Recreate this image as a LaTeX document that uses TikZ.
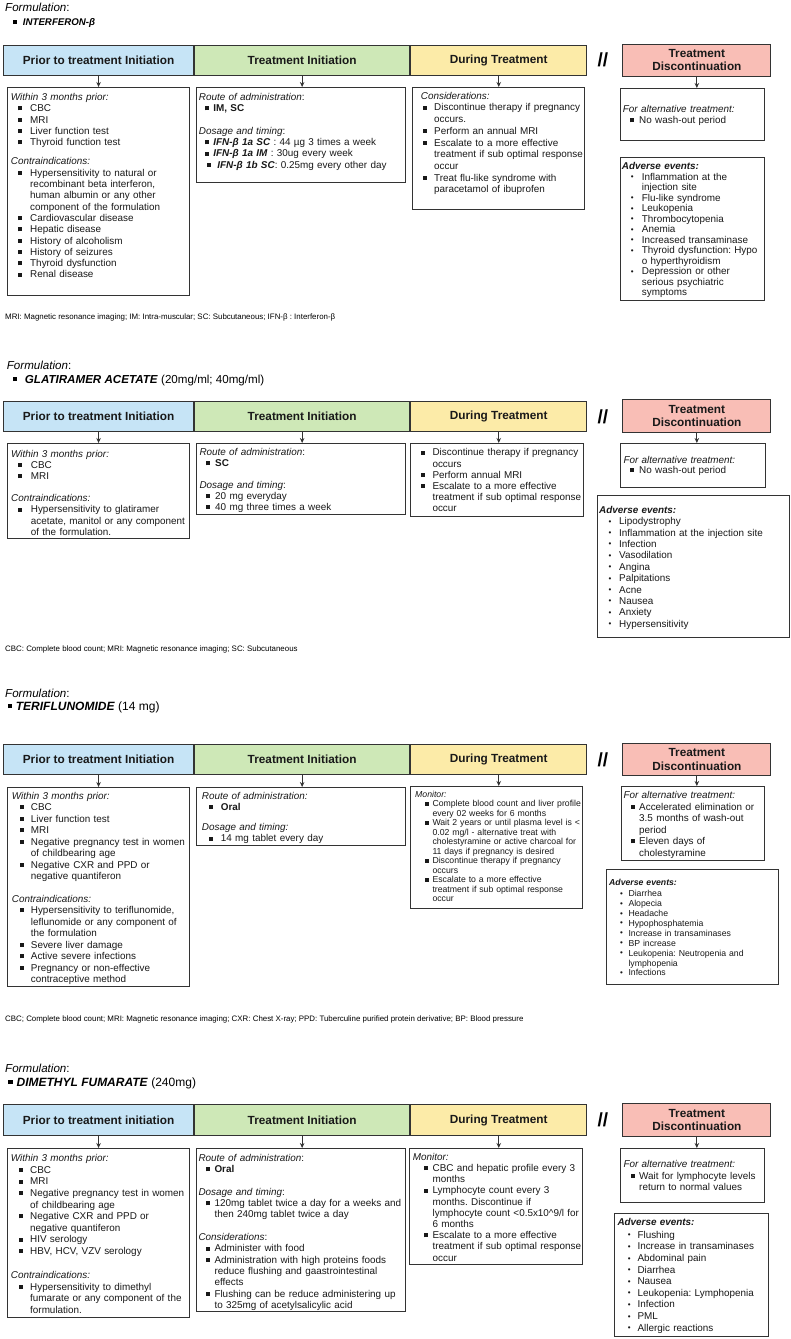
\documentclass[tikz,border=0pt]{standalone}
\usepackage{fontspec}
\setmainfont{Liberation Sans}
\usetikzlibrary{positioning,arrows.meta}
\frenchspacing

\definecolor{cprior}{HTML}{C6E4F6}
\definecolor{cinit}{HTML}{CEE8B7}
\definecolor{cduring}{HTML}{FCEBA8}
\definecolor{cstop}{HTML}{F9BEB6}
\definecolor{cline}{HTML}{333333}

\newlength{\itemind}
\newlength{\itemoff}
\setlength{\itemind}{19pt}
\setlength{\itemoff}{7pt}
\newcommand{\bodyfont}[1]{\fontsize{9.9pt}{#1pt}\selectfont}
\newcommand{\smallbody}[1]{\fontsize{8.7pt}{#1pt}\selectfont}
\newcommand{\hdline}[1]{\par\noindent\textit{#1}}
\newcommand{\blkgap}[1]{\par\vspace{#1pt}}
\newcommand{\sqitem}[1]{\par\noindent\hangindent=\itemind\hangafter=1%
  \makebox[\itemind][l]{\hspace*{\itemoff}\rule[1.3pt]{4pt}{4pt}}{\let\\\newline #1}}
\newcommand{\dtitem}[1]{\par\noindent\hangindent=\itemind\hangafter=1%
  \makebox[\itemind][l]{\hspace*{\itemoff}\raisebox{0.5pt}{\fontsize{8pt}{8pt}\selectfont\textbullet}}{\let\\\newline #1}}

\tikzset{
  hdr/.style={draw=cline, line width=1.1pt, inner sep=0pt, minimum height=30pt,
    font=\fontsize{11.8pt}{13.3pt}\selectfont\bfseries, text=black!90},
  box/.style={draw=cline, line width=1.1pt, inner sep=0pt, anchor=north west},
  txt/.style={inner sep=0pt, align=left, text width=#1, text=black!90},
  items/.style 2 args={execute at begin node={\setlength{\itemind}{#1pt}\setlength{\itemoff}{#2pt}}},
  arr/.style={-{Stealth[length=5pt,width=4.5pt]}, line width=1pt, draw=cline},
  dslash/.style={inner sep=0pt, font=\fontsize{19pt}{19pt}\selectfont\bfseries},
  form/.style={anchor=base west, inner sep=0pt, font=\fontsize{11.6pt}{14pt}\selectfont},
  drug/.style={anchor=base west, inner sep=0pt, font=\fontsize{#1pt}{14pt}\selectfont},
  note/.style={anchor=base west, inner sep=0pt, font=\fontsize{7.9pt}{9pt}\selectfont},
}

\begin{document}
\begin{tikzpicture}[x=1pt, y=-1pt]
        \fill[white] (0,0) rectangle (791,1339);
        \useasboundingbox (0,0) rectangle (791,1339);
        %
        % interferon beta
        \node[form] (form1) at (5,11.1) {\textit{Formulation}:}; %
        \node[drug=9.7] (drug1) at (12.7,25.5) {\rule[1.5pt]{4pt}{4pt}\hspace{6pt}\textbf{\textit{INTERFERON-β}}}; %
        \node[hdr, fill=cprior, minimum width=190pt, minimum height=29.5pt, anchor=north west] (hprior1) at (3,45) {Prior to treatment Initiation}; %
        \node[hdr, fill=cinit, minimum width=215pt, minimum height=29.5pt, right=0pt of hprior1] (hinit1) {Treatment Initiation}; %
        \node[hdr, fill=cduring, minimum width=176pt, minimum height=29.5pt, right=0pt of hinit1] (hduring1) {During Treatment}; %
        \node[dslash, right=10pt of hduring1] (slash1) {//}; %
        \node[hdr, fill=cstop, minimum width=148pt, minimum height=32.5pt, align=center, right=35pt of hduring1] (hstop1) {Treatment\\Discontinuation}; %
        \node[box, minimum width=182pt, minimum height=208pt] (bprior1) at (7,87) {}; %
        \node[box, minimum width=209pt, minimum height=95pt] (binit1) at (196,87) {}; %
        \node[box, minimum width=172pt, minimum height=122pt] (bduring1) at (412,87) {}; %
        \node[box, minimum width=144pt, minimum height=52pt] (bstop1) at (620,88) {}; %
        \node[box, minimum width=144pt, minimum height=143pt] (badv1) at (620,157) {}; %
        \node[txt=190pt, items={19.3}{7.3}, font=\bodyfont{11.3}, below right=1.9pt and 3.7pt of bprior1.north west] (tprior1) {%
          \hdline{Within 3 months prior:}%
          \sqitem{CBC}\sqitem{MRI}\sqitem{Liver function test}\sqitem{Thyroid function test}%
          \blkgap{8}\hdline{Contraindications:}%
          \sqitem{Hypersensitivity to natural or\\recombinant beta interferon,\\human albumin or any other\\component of the formulation}%
          \sqitem{Cardiovascular disease}\sqitem{Hepatic disease}\sqitem{History of alcoholism}%
          \sqitem{History of seizures}\sqitem{Thyroid dysfunction}\sqitem{Renal disease}\par}; %
        \node[txt=215pt, items={14.5}{6.3}, font=\bodyfont{11.3}, below right=1.9pt and 2.7pt of binit1.north west] (tinit1) {%
          \hdline{Route of administration}:%
          \sqitem{\textbf{IM, SC}}%
          \blkgap{11.3}\hdline{Dosage and timing}:%
          \sqitem{\textbf{\textit{IFN-β 1a SC}} : 44 µg 3 times a week}%
          \sqitem{\textbf{\textit{IFN-β 1a IM}} : 30ug every week}%
          {\addtolength{\itemoff}{2pt}\addtolength{\itemind}{4pt}\sqitem{\textbf{\textit{IFN-β 1b SC}}: 0.25mg every other day}\par}}; %
        \node[txt=185pt, items={18.3}{7}, font=\bodyfont{11.7}, below right=0.3pt and 3.7pt of bduring1.north west] (tduring1) {%
          \hdline{\hspace*{5pt}Considerations:}%
          \sqitem{Discontinue therapy if pregnancy\\occurs.}%
          \sqitem{Perform an annual MRI}%
          \sqitem{Escalate to a more effective\\treatment if sub optimal response\\occur}%
          \sqitem{Treat flu-like syndrome with\\paracetamol of ibuprofen}\par}; %
        \node[txt=150pt, items={16.3}{7.3}, font=\bodyfont{11}, below right=13.5pt and 2.7pt of bstop1.north west] (tstop1) {%
          \hdline{For alternative treatment:}%
          \sqitem{No wash-out period}\par}; %
        \node[txt=150pt, items={20}{9}, font=\bodyfont{10.5}, below right=1.9pt and 1.7pt of badv1.north west] (tadv1) {%
          \hdline{\textbf{Adverse events:}}%
          \dtitem{Inflammation at the\\injection site}\dtitem{Flu-like syndrome}\dtitem{Leukopenia}%
          \dtitem{Thrombocytopenia}\dtitem{Anemia}\dtitem{Increased transaminase}%
          \dtitem{Thyroid dysfunction: Hypo\\o hyperthyroidism}\dtitem{Depression or other\\serious psychiatric\\symptoms}\par}; %
        \node[note] (note1) at (5,319.7) {MRI: Magnetic resonance imaging; IM: Intra-muscular; SC: Subcutaneous; IFN-β : Interferon-β}; %
        %
        \draw[arr] (hprior1.south) -- (hprior1.south |- bprior1.north); %
        \draw[arr] (hinit1.south) -- (hinit1.south |- binit1.north); %
        \draw[arr] (hduring1.south) -- (hduring1.south |- bduring1.north); %
        \draw[arr] (hstop1.south) -- (hstop1.south |- bstop1.north); %
        %
        % glatiramer acetate
        \node[form] (form2) at (6.7,369.9) {\textit{Formulation}:}; %
        \node[drug=11.6] (drug2) at (12.7,383.2) {\rule[2.2pt]{4pt}{4pt}\hspace{8pt}\textbf{\textit{GLATIRAMER ACETATE}} (20mg/ml; 40mg/ml)}; %
        \node[hdr, fill=cprior, minimum width=190pt, minimum height=29.5pt, anchor=north west] (hprior2) at (3,401) {Prior to treatment Initiation}; %
        \node[hdr, fill=cinit, minimum width=215pt, minimum height=29.5pt, right=0pt of hprior2] (hinit2) {Treatment Initiation}; %
        \node[hdr, fill=cduring, minimum width=176pt, minimum height=29.5pt, right=0pt of hinit2] (hduring2) {During Treatment}; %
        \node[dslash, right=10pt of hduring2] (slash2) {//}; %
        \node[hdr, fill=cstop, minimum width=148pt, minimum height=33pt, align=center, right=35pt of hduring2] (hstop2) {Treatment\\Discontinuation}; %
        \node[box, minimum width=182pt, minimum height=95pt] (bprior2) at (7,443) {}; %
        \node[box, minimum width=209pt, minimum height=71pt] (binit2) at (196,443) {}; %
        \node[box, minimum width=173pt, minimum height=73pt] (bduring2) at (410,443) {}; %
        \node[box, minimum width=145pt, minimum height=44pt] (bstop2) at (620,443) {}; %
        \node[box, minimum width=192pt, minimum height=142pt] (badv2) at (597,495) {}; %
        \node[txt=190pt, items={19.7}{7.3}, font=\bodyfont{11.2}, below right=2.6pt and 4pt of bprior2.north west] (tprior2) {%
          \hdline{Within 3 months prior:}%
          \sqitem{CBC}\sqitem{MRI}%
          \blkgap{11}\hdline{Contraindications:}%
          \sqitem{Hypersensitivity to glatiramer\\acetate, manitol or any component\\of the formulation.}\par}; %
        \node[txt=215pt, items={15.7}{6.3}, font=\bodyfont{10.9}, below right=1.6pt and 3.3pt of binit2.north west] (tinit2) {%
          \hdline{Route of administration}:%
          \sqitem{\textbf{SC}}%
          \blkgap{10.9}\hdline{Dosage and timing}:%
          \sqitem{20 mg everyday}\sqitem{40 mg three times a week}\par}; %
        \node[txt=185pt, items={19.3}{7.7}, font=\bodyfont{11.1}, below right=1.6pt and 3pt of bduring2.north west] (tduring2) {%
          \sqitem{Discontinue therapy if pregnancy\\occurs}%
          \sqitem{Perform annual MRI}%
          \sqitem{Escalate to a more effective\\treatment if sub optimal response\\occur}\par}; %
        \node[txt=150pt, items={15.7}{6.7}, font=\bodyfont{10}, below right=10.2pt and 3.3pt of bstop2.north west] (tstop2) {%
          \hdline{For alternative treatment:}%
          \sqitem{No wash-out period}\par}; %
        \node[txt=190pt, items={20}{9.3}, font=\bodyfont{11.4}, below right=6.6pt and 2pt of badv2.north west] (tadv2) {%
          \hdline{\textbf{Adverse events:}}%
          \dtitem{Lipodystrophy}\dtitem{Inflammation at the injection site}\dtitem{Infection}%
          \dtitem{Vasodilation}\dtitem{Angina}\dtitem{Palpitations}\dtitem{Acne}%
          \dtitem{Nausea}\dtitem{Anxiety}\dtitem{Hypersensitivity}\par}; %
        \node[note] (note2) at (5,651.7) {CBC: Complete blood count; MRI: Magnetic resonance imaging; SC: Subcutaneous}; %
        %
        \draw[arr] (hprior2.south) -- (hprior2.south |- bprior2.north); %
        \draw[arr] (hinit2.south) -- (hinit2.south |- binit2.north); %
        \draw[arr] (hduring2.south) -- (hduring2.south |- bduring2.north); %
        \draw[arr] (hstop2.south) -- (hstop2.south |- bstop2.north); %
        %
        % teriflunomide
        \node[form] (form3) at (5,697.6) {\textit{Formulation}:}; %
        \node[drug=12] (drug3) at (7.3,710.3) {\rule[2.3pt]{4.4pt}{4.4pt}\hspace{4pt}\textbf{\textit{TERIFLUNOMIDE}} (14 mg)}; %
        \node[hdr, fill=cprior, minimum width=190pt, minimum height=30pt, anchor=north west] (hprior3) at (3,744) {Prior to treatment Initiation}; %
        \node[hdr, fill=cinit, minimum width=215pt, minimum height=30pt, right=0pt of hprior3] (hinit3) {Treatment Initiation}; %
        \node[hdr, fill=cduring, minimum width=176pt, minimum height=30pt, right=0pt of hinit3] (hduring3) {During Treatment}; %
        \node[dslash, right=10pt of hduring3] (slash3) {//}; %
        \node[hdr, fill=cstop, minimum width=148pt, minimum height=32.5pt, align=center, right=35pt of hduring3] (hstop3) {Treatment\\Discontinuation}; %
        \node[box, minimum width=182pt, minimum height=199pt] (bprior3) at (7,787) {}; %
        \node[box, minimum width=209pt, minimum height=58pt] (binit3) at (196,787) {}; %
        \node[box, minimum width=172pt, minimum height=122pt] (bduring3) at (410,786) {}; %
        \node[box, minimum width=143pt, minimum height=74pt] (bstop3) at (621,786) {}; %
        \node[box, minimum width=172pt, minimum height=115pt] (badv3) at (606,869) {}; %
        \node[txt=190pt, items={19}{8.3}, font=\bodyfont{11.5}, below right=0.5pt and 4.7pt of bprior3.north west] (tprior3) {%
          \hdline{Within 3 months prior:}%
          \sqitem{CBC}\sqitem{Liver function test}\sqitem{MRI}%
          \sqitem{Negative pregnancy test in women\\of childbearing age}%
          \sqitem{Negative CXR and PPD or\\negative quantiferon}%
          \blkgap{11}\hdline{Contraindications:}%
          \sqitem{Hypersensitivity to teriflunomide,\\leflunomide or any component of\\the formulation}%
          \sqitem{Severe liver damage}\sqitem{Active severe infections}%
          \sqitem{Pregnancy or non-effective\\contraceptive method}\par}; %
        \node[txt=215pt, items={19}{7.3}, font=\bodyfont{11}, below right=0.9pt and 5.7pt of binit3.north west] (tinit3) {%
          \hdline{Route of administration:}%
          \sqitem{\textbf{Oral}}%
          \blkgap{9.7}\hdline{Dosage and timing:}%
          \sqitem{14 mg tablet every day}\par}; %
        \node[txt=185pt, items={17.3}{10}, font=\smallbody{9.5}, below right=1.6pt and 5pt of bduring3.north west] (tduring3) {%
          \hdline{Monitor:}%
          \sqitem{Complete blood count and liver profile\\every 02 weeks for 6 months}%
          \sqitem{Wait 2 years or until plasma level is <\\0.02 mg/l - alternative treat with\\cholestyramine or active charcoal for\\11 days if pregnancy is desired}%
          \sqitem{Discontinue therapy if pregnancy\\occurs}%
          \sqitem{Escalate to a more effective\\treatment if sub optimal response\\occur}\par}; %
        \node[txt=150pt, items={15.7}{7.7}, font=\bodyfont{11.5}, below right=0.9pt and 2.3pt of bstop3.north west] (tstop3) {%
          \hdline{For alternative treatment:}%
          \sqitem{Accelerated elimination or\\3.5 months of wash-out\\period}%
          \sqitem{Eleven days of\\cholestyramine}\par}; %
        \node[txt=175pt, items={19.3}{11}, font=\smallbody{9.9}, below right=6pt and 3pt of badv3.north west] (tadv3) {%
          \hdline{\textbf{Adverse events:}}\blkgap{1.7}%
          \dtitem{Diarrhea}\dtitem{Alopecia}\dtitem{Headache}\dtitem{Hypophosphatemia}%
          \dtitem{Increase in transaminases}\dtitem{BP increase}%
          \dtitem{Leukopenia: Neutropenia and\\lymphopenia}\dtitem{Infections}\par}; %
        \node[note] (note3) at (5,1021.7) {CBC; Complete blood count; MRI: Magnetic resonance imaging; CXR: Chest X-ray; PPD: Tuberculine purified protein derivative; BP: Blood pressure}; %
        %
        \draw[arr] (hprior3.south) -- (hprior3.south |- bprior3.north); %
        \draw[arr] (hinit3.south) -- (hinit3.south |- binit3.north); %
        \draw[arr] (hduring3.south) -- (hduring3.south |- bduring3.north); %
        \draw[arr] (hstop3.south) -- (hstop3.south |- bstop3.north); %
        %
        % dimethyl fumarate
        \node[form] (form4) at (5,1072.3) {\textit{Formulation}:}; %
        \node[drug=12] (drug4) at (8,1086.3) {\rule[2.3pt]{4.4pt}{4.4pt}\hspace{4pt}\textbf{\textit{DIMETHYL FUMARATE}} (240mg)}; %
        \node[hdr, fill=cprior, minimum width=190pt, minimum height=31pt, anchor=north west] (hprior4) at (3,1104) {Prior to treatment initiation}; %
        \node[hdr, fill=cinit, minimum width=215pt, minimum height=31pt, right=0pt of hprior4] (hinit4) {Treatment Initiation}; %
        \node[hdr, fill=cduring, minimum width=176pt, minimum height=31pt, right=0pt of hinit4] (hduring4) {During Treatment}; %
        \node[dslash, right=10pt of hduring4] (slash4) {//}; %
        \node[hdr, fill=cstop, minimum width=148pt, minimum height=33pt, align=center, right=35pt of hduring4] (hstop4) {Treatment\\Discontinuation}; %
        \node[box, minimum width=182pt, minimum height=169pt] (bprior4) at (7,1148) {}; %
        \node[box, minimum width=209pt, minimum height=163pt] (binit4) at (196,1148) {}; %
        \node[box, minimum width=173pt, minimum height=116pt] (bduring4) at (409,1148) {}; %
        \node[box, minimum width=144pt, minimum height=54pt] (bstop4) at (620,1148) {}; %
        \node[box, minimum width=154pt, minimum height=123pt] (badv4) at (614,1213) {}; %
        \node[txt=190pt, items={19.3}{8.3}, font=\bodyfont{11.6}, below right=1.9pt and 3.7pt of bprior4.north west] (tprior4) {%
          \hdline{Within 3 months prior:}%
          \sqitem{CBC}\sqitem{MRI}%
          \sqitem{Negative pregnancy test in women\\of childbearing age}%
          \sqitem{Negative CXR and PPD or\\negative quantiferon}%
          \sqitem{HIV serology}\sqitem{HBV, HCV, VZV serology}%
          \blkgap{12.4}\hdline{Contraindications:}%
          \sqitem{Hypersensitivity to dimethyl\\fumarate or any component of the\\formulation.}\par}; %
        \node[txt=215pt, items={16}{7.3}, font=\bodyfont{11.3}, below right=1.9pt and 2.3pt of binit4.north west] (tinit4) {%
          \hdline{Route of administration}:%
          \sqitem{\textbf{Oral}}%
          \blkgap{11.3}\hdline{Dosage and timing}:%
          \sqitem{120mg tablet twice a day for a weeks and\\then 240mg tablet twice a day}%
          \blkgap{11.3}\hdline{Considerations}:%
          \sqitem{Administer with food}%
          \sqitem{Administration with high proteins foods\\reduce flushing and gaastrointestinal\\effects}%
          \sqitem{Flushing can be reduce administering up\\to 325mg of acetylsalicylic acid}\par}; %
        \node[txt=185pt, items={19.7}{11.3}, font=\bodyfont{11.2}, below right=0.9pt and 3.7pt of bduring4.north west] (tduring4) {%
          \hdline{Monitor:}%
          \sqitem{CBC and hepatic profile every 3\\months}%
          \sqitem{Lymphocyte count every 3\\months. Discontinue if\\lymphocyte count <0.5x10\textasciicircum9/l for\\6 months}%
          \sqitem{Escalate to a more effective\\treatment if sub optimal response\\occur}\par}; %
        \node[txt=150pt, items={15.7}{7.3}, font=\bodyfont{11.3}, below right=8.2pt and 3.3pt of bstop4.north west] (tstop4) {%
          \hdline{For alternative treatment:}%
          \sqitem{Wait for lymphocyte levels\\return to normal values}\par}; %
        \node[txt=160pt, items={20}{10.3}, font=\bodyfont{11.6}, below right=0.9pt and 3.3pt of badv4.north west] (tadv4) {%
          \hdline{\textbf{Adverse events:}}\blkgap{1}%
          \dtitem{Flushing}\dtitem{Increase in transaminases}\dtitem{Abdominal pain}%
          \dtitem{Diarrhea}\dtitem{Nausea}\dtitem{Leukopenia: Lymphopenia}%
          \dtitem{Infection}\dtitem{PML}\dtitem{Allergic reactions}\par}; %
        %
        \draw[arr] (hprior4.south) -- (hprior4.south |- bprior4.north); %
        \draw[arr] (hinit4.south) -- (hinit4.south |- binit4.north); %
        \draw[arr] (hduring4.south) -- (hduring4.south |- bduring4.north); %
        \draw[arr] (hstop4.south) -- (hstop4.south |- bstop4.north); %
\end{tikzpicture}
\end{document}
